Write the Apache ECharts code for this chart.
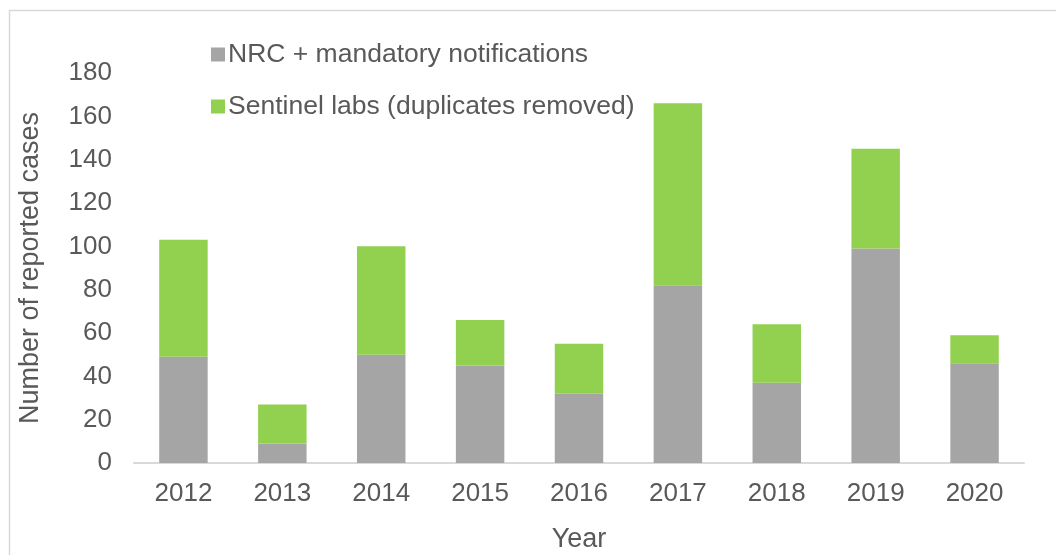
<!DOCTYPE html>
<html>
<head>
<meta charset="utf-8">
<script src="https://cdn.jsdelivr.net/npm/echarts@6/dist/echarts.min.js"></script>
<style>html,body{margin:0;padding:0;background:#fff}#c{width:1056px;height:555px}</style>
</head>
<body>
<div id="c"></div>
<script>
const years = ['2012','2013','2014','2015','2016','2017','2018','2019','2020'];
const nrcMandatory = [49, 9, 50, 45, 32, 82, 37, 99, 46];
const sentinelLabs = [54, 18, 50, 21, 23, 84, 27, 46, 13];
const seriesNames = ['NRC + mandatory notifications', 'Sentinel labs (duplicates removed)'];
const yTicks = { min: 0, max: 180, interval: 20 };

const chart = echarts.init(document.getElementById('c'), null, {renderer: 'canvas'});
const font = 'Liberation Sans, Arial, sans-serif';
const txt = '#595959';
const fs = 26;
chart.setOption({
  animation: false,
  backgroundColor: '#fff',
  graphic: [{
    type: 'rect', left: 7, top: 8, shape: {width: 1200, height: 700},
    style: {fill: 'none', stroke: '#D9D9D9', lineWidth: 1.5}, z: -1
  }],
  legend: {
    orient: 'vertical', left: 206, top: 36, itemWidth: 14, itemHeight: 14, itemGap: 25,
    icon: 'rect',
    textStyle: {fontFamily: font, fontSize: 26.5, color: txt, padding: [0,0,0,-2]},
    data: seriesNames
  },
  grid: {left: 134, right: 32, top: 73, bottom: 92, outerBoundsMode: 'none', containLabel: false},
  xAxis: {
    type: 'category', data: years,
    name: 'Year', nameLocation: 'middle', nameGap: 63,
    nameTextStyle: {fontFamily: font, fontSize: 27, color: txt},
    axisLine: {lineStyle: {color: '#D9D9D9', width: 2}},
    axisTick: {show: false},
    axisLabel: {fontFamily: font, fontSize: fs, color: txt, margin: 18}
  },
  yAxis: {
    type: 'value', min: yTicks.min, max: yTicks.max, interval: yTicks.interval,
    name: 'Number of reported cases', nameLocation: 'middle', nameGap: 90,
    nameTextStyle: {fontFamily: font, fontSize: 27, color: txt},
    splitLine: {show: false},
    axisLine: {show: false}, axisTick: {show: false},
    axisLabel: {fontFamily: font, fontSize: fs, color: txt, margin: 22}
  },
  series: [
    {name: seriesNames[0], type: 'bar', stack: 'a', data: nrcMandatory, barWidth: '49%',
     itemStyle: {color: '#A5A5A5'}},
    {name: seriesNames[1], type: 'bar', stack: 'a', data: sentinelLabs, barWidth: '49%',
     itemStyle: {color: '#92D050'}}
  ]
});
</script>
</body>
</html>
